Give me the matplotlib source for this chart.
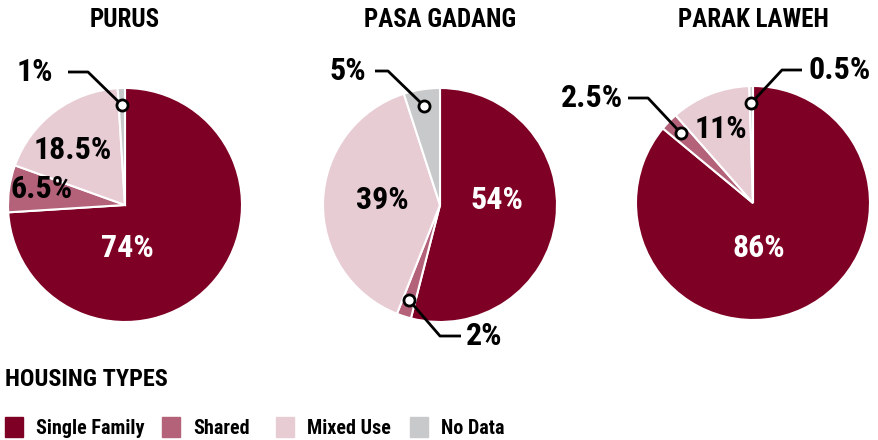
import numpy as np
import matplotlib.pyplot as plt

plt.rcParams['font.family'] = ['Roboto Condensed', 'DejaVu Sans']
plt.rcParams['font.weight'] = 'bold'

# Housing type shares per district (%)
categories = ['Single Family', 'Shared', 'Mixed Use', 'No Data']
colors = ['#7f0025', '#b3627a', '#e8ccd4', '#c8c9cb']
districts = ['PURUS', 'PASA GADANG', 'PARAK LAWEH']
purus = [74, 6.5, 18.5, 1]
pasa_gadang = [54, 2, 39, 5]
parak_laweh = [86, 2.5, 11, 0.5]
labels = [['74%', '6.5%', '18.5%', '1%'],
          ['54%', '2%', '39%', '5%'],
          ['86%', '2.5%', '11%', '0.5%']]

W, H = 879, 440
R = 117
centers = [(125, 205), (440, 205), (753, 203)]

# label layout (pixel coords, y down): inside labels and leader-line labels
inside = {
    (0, 0): (127, 248, 'white'), (0, 1): (42, 189, 'black'), (0, 2): (73, 150, 'black'),
    (1, 0): (497, 200, 'white'), (1, 2): (382, 200, 'black'),
    (2, 0): (759, 248, 'white'), (2, 2): (721, 129, 'black'),
}
# wedge -> (elbow x, elbow y, end x, text x, ha)
leaders = {
    (0, 3): (88, 72, 68, 53, 'right'),
    (1, 3): (388, 71, 375, 366, 'right'),
    (1, 1): (440, 336, 461, 466, 'left'),
    (2, 1): (648, 98, 628, 623, 'right'),
    (2, 3): (782, 70, 802, 809, 'left'),
}

fig = plt.figure(figsize=(W / 100, H / 100), dpi=100)
ax = fig.add_axes([0, 0, 1, 1])

for i, vals in enumerate([purus, pasa_gadang, parak_laweh]):
    cx, cy = centers[i]
    ax.pie(vals, colors=colors, startangle=90, counterclock=False,
           center=(cx, H - cy), radius=R,
           wedgeprops=dict(edgecolor='white', linewidth=1.5))
    ax.text(cx, H - 20, districts[i], ha='center', va='center', fontsize=18)

    cum = np.cumsum([0] + vals)
    for j in range(len(vals)):
        if (i, j) in inside:
            x, y, c = inside[(i, j)]
            ax.text(x, H - y, labels[i][j], ha='center', va='center',
                    fontsize=23, color=c)
        if (i, j) in leaders:
            mid = np.deg2rad((cum[j] + cum[j + 1]) / 2 / 100 * 360)
            px = cx + 0.855 * R * np.sin(mid)
            py = H - cy + 0.855 * R * np.cos(mid)
            ex, ey, endx, tx, ha = leaders[(i, j)]
            ax.plot([px, ex, endx], [py, H - ey, H - ey], color='black', lw=2,
                    solid_capstyle='butt', zorder=5)
            ax.plot(px, py, 'o', ms=8, mfc='white', mec='black', mew=2, zorder=6)
            ax.text(tx, H - ey, labels[i][j], ha=ha, va='center', fontsize=23)

# legend
ax.text(5, H - 379, 'HOUSING TYPES', ha='left', va='center', fontsize=17.5)
sq_x = [5, 162, 276, 410]
for k, cat in enumerate(categories):
    ax.add_patch(plt.Rectangle((sq_x[k], H - 437), 18, 20, color=colors[k]))
    ax.text(sq_x[k] + 31, H - 428, cat, ha='left', va='center', fontsize=14.5)

ax.set_xlim(0, W)
ax.set_ylim(0, H)
ax.set_aspect('equal')
ax.axis('off')

fig.savefig('out.png', dpi=100)
